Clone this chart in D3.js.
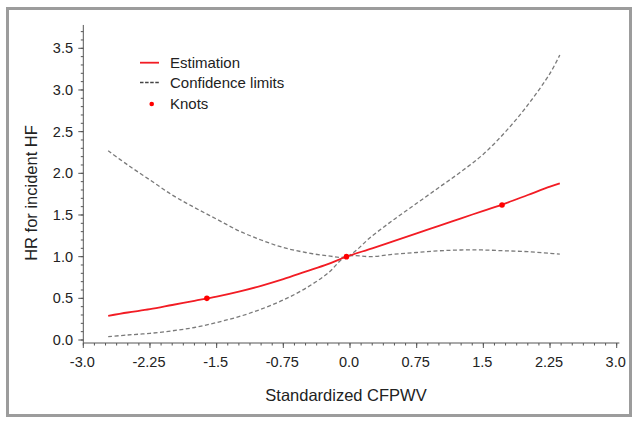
<!DOCTYPE html>
<html><head><meta charset="utf-8">
<script src="https://cdn.jsdelivr.net/npm/d3@7"></script>
<style>body{margin:0;background:#fff}svg{display:block}text{font-family:"Liberation Sans",Arial,sans-serif}</style>
</head><body><svg id="c" width="634" height="422"></svg>
<script>
const xs       = [-2.72,-2.5,-2.25,-2.0,-1.75,-1.5,-1.25,-1.0,-0.75,-0.5,-0.25,-0.04,0.25,0.5,0.75,1.0,1.25,1.5,1.75,2.0,2.25,2.36];
const estimate = [0.29,0.33,0.37,0.42,0.47,0.52,0.58,0.65,0.73,0.82,0.91,1.0,1.10,1.19,1.28,1.37,1.46,1.55,1.64,1.74,1.84,1.88];
const upperCI  = [2.27,2.10,1.92,1.74,1.59,1.45,1.31,1.20,1.11,1.05,1.01,1.0,1.25,1.45,1.64,1.83,2.02,2.23,2.50,2.82,3.20,3.42];
const lowerCI  = [0.04,0.06,0.08,0.11,0.15,0.21,0.28,0.37,0.48,0.62,0.80,1.0,1.00,1.03,1.05,1.07,1.08,1.08,1.07,1.06,1.04,1.03];
const knotX    = [-1.61,-0.04,1.71];
const knotY    = [0.50,1.0,1.62];
const xTicks   = [-3.0,-2.25,-1.5,-0.75,0.0,0.75,1.5,2.25,3.0];
const xTickLabels = ["-3.0","-2.25","-1.5","-0.75","0.0","0.75","1.5","2.25","3.0"];
const yTicks   = [0.0,0.5,1.0,1.5,2.0,2.5,3.0,3.5];
const yTickLabels = ["0.0","0.5","1.0","1.5","2.0","2.5","3.0","3.5"];
const legendLabels = ["Estimation","Confidence limits","Knots"];

const svg = d3.select("#c");
const x = d3.scaleLinear().domain([-3,3]).range([83.3,616.7]);
const y = d3.scaleLinear().domain([0,3.5]).range([340,48.3]);

// frame
svg.append("rect").attr("x",7.5).attr("y",8.5).attr("width",623).attr("height",407)
  .attr("fill","none").attr("stroke","#9c9c9c").attr("stroke-width",3);

const axisCol = "#555";
const g = svg.append("g");
g.append("line").attr("x1",x(-3)).attr("x2",x(3.03)).attr("y1",y(-0.036)).attr("y2",y(-0.036)).attr("stroke",axisCol);
g.append("line").attr("x1",x(-3)).attr("x2",x(-3)).attr("y1",y(-0.036)).attr("y2",y(3.78)).attr("stroke",axisCol);

const xMinor = d3.range(-3,3.0001,0.125);
const xAxisY = y(-0.036);
g.selectAll(".xmin").data(xMinor).join("line").attr("x1",d=>x(d)).attr("x2",d=>x(d))
  .attr("y1",xAxisY).attr("y2",xAxisY+2.5).attr("stroke",axisCol);
g.selectAll(".xmaj").data(xTicks).join("line").attr("x1",d=>x(d)).attr("x2",d=>x(d))
  .attr("y1",xAxisY).attr("y2",xAxisY+5).attr("stroke",axisCol);
g.selectAll(".xlab").data(xTicks).join("text").attr("x",d=>x(d)-1).attr("y",367)
  .attr("text-anchor","middle").attr("font-size",14.5).attr("fill","#222").text((d,i)=>xTickLabels[i]);

const yAxisX = x(-3);
const yMinor = d3.range(0,3.75,0.1);
g.selectAll(".ymin").data(yMinor).join("line").attr("y1",d=>y(d)).attr("y2",d=>y(d))
  .attr("x1",yAxisX).attr("x2",yAxisX-2.5).attr("stroke",axisCol);
g.selectAll(".ymaj").data(yTicks).join("line").attr("y1",d=>y(d)).attr("y2",d=>y(d))
  .attr("x1",yAxisX).attr("x2",yAxisX-5).attr("stroke",axisCol);
g.selectAll(".ylab").data(yTicks).join("text").attr("x",73).attr("y",d=>y(d)+5)
  .attr("text-anchor","end").attr("font-size",14.5).attr("fill","#222").text((d,i)=>yTickLabels[i]);

svg.append("text").attr("x",346).attr("y",401).attr("text-anchor","middle").attr("font-size",16.5).attr("fill","#222").text("Standardized CFPWV");
svg.append("text").attr("transform","translate(37,193) rotate(-90)").attr("text-anchor","middle").attr("font-size",16.5).attr("fill","#222").text("HR for incident HF");

const line = d3.line().x(d=>x(d[0])).y(d=>y(d[1])).curve(d3.curveCatmullRom.alpha(0.5));
const dash = "4,2.5";
[upperCI, lowerCI].forEach(arr=>{
  svg.append("path").attr("d",line(xs.map((v,i)=>[v,arr[i]]))).attr("fill","none")
    .attr("stroke","#7a7a7a").attr("stroke-width",1.3).attr("stroke-dasharray",dash);
});
svg.append("path").attr("d",line(xs.map((v,i)=>[v,estimate[i]]))).attr("fill","none")
  .attr("stroke","#f21c24").attr("stroke-width",1.8);
svg.selectAll(".knot").data(knotX).join("circle").attr("cx",d=>x(d)).attr("cy",(d,i)=>y(knotY[i]))
  .attr("r",2.8).attr("fill","#f00");

const lg = svg.append("g");
const ly = [62.7,82.5,104];
lg.append("line").attr("x1",140).attr("x2",159).attr("y1",ly[0]).attr("y2",ly[0]).attr("stroke","#f21c24").attr("stroke-width",1.8);
lg.append("line").attr("x1",140).attr("x2",159).attr("y1",ly[1]).attr("y2",ly[1]).attr("stroke","#444").attr("stroke-width",1.3).attr("stroke-dasharray","3.5,1.6");
lg.append("circle").attr("cx",151.7).attr("cy",ly[2]).attr("r",2.3).attr("fill","#f00");
lg.selectAll("text").data(legendLabels).join("text").attr("x",170).attr("y",(d,i)=>ly[i]+5.2)
  .attr("font-size",15).attr("fill","#222").text(d=>d);
</script></body></html>
